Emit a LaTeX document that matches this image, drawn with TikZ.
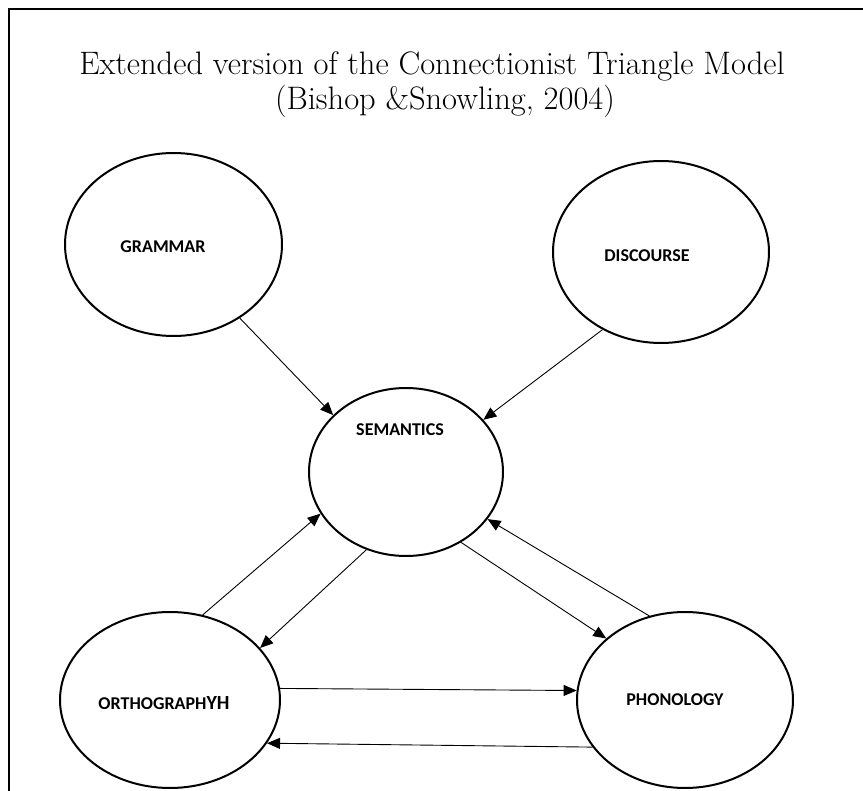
\documentclass[tikz,border=0pt]{standalone}
\usepackage{fontspec}
\newfontfamily\labelfont{Carlito}
\usetikzlibrary{shapes.geometric,arrows.meta}
\tikzset{
  circ/.style={draw, ellipse, line width=2pt, inner sep=0pt},
  lbl/.style={font=\labelfont\bfseries\fontsize{18}{20}\selectfont},
  arr/.style={line width=0.9pt, -{Triangle[length=13pt,width=11pt]}}
}
\begin{document}
\begin{tikzpicture}[x=1pt,y=-1pt]
  \useasboundingbox (0,0) rectangle (863,791);
  % frame
  \draw[line width=2pt] (9,791) -- (9,9) -- (863,9);
  % title
  \node (title1) at (432,66) {\fontsize{32.5}{36}\selectfont Extended version of the Connectionist Triangle Model};
  \node (title2) at (445,101) {\fontsize{32.5}{36}\selectfont (Bishop \&Snowling, 2004)};
  % ellipses
  \node[circ, minimum width=217pt, minimum height=183pt] (G) at (173.5,244.5) {};
  \node[circ, minimum width=216pt, minimum height=182pt] (D) at (661,252) {};
  \node[circ, minimum width=194pt, minimum height=168pt] (S) at (406,472) {};
  \node[circ, minimum width=220pt, minimum height=176pt] (O) at (170,700) {};
  \node[circ, minimum width=216pt, minimum height=176pt] (P) at (685,700) {};
  % labels
  \node[lbl] (Gl) at (163,247) {GRAMMAR};
  \node[lbl] (Dl) at (647,256) {DISCOURSE};
  \node[lbl] (Sl) at (400,430) {SEMANTICS};
  \node[lbl] (Ol) at (164,703) {ORTHOGRAPH\fontsize{20}{22}\selectfont YH};
  \node[lbl] (Pl) at (675,700) {PHONOLOGY};
  % connections
  \draw[arr] (G.-48.7) -- (S.142.9);
  \draw[arr] (D.-127.2) -- (S.34);
  \draw[arr] (O.69) -- (S.-154);
  \draw[arr] (S.-117) -- (O.30.5);
  \draw[arr] (S.-52.7) -- (P.142.5);
  \draw[arr] (P.113.7) -- (S.-30);
  \draw[arr] (O.6.9) -- (P.175.5);
  \draw[arr] (P.-153) -- (O.-24);
\end{tikzpicture}
\end{document}
